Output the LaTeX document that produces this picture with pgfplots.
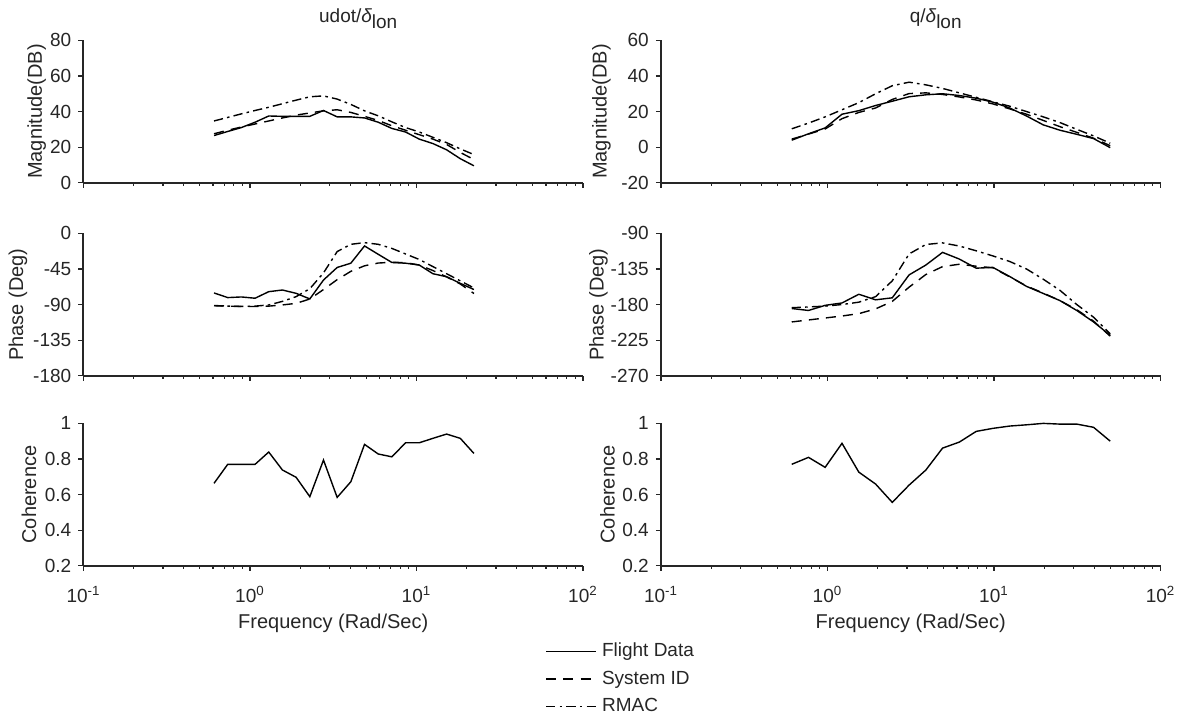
\documentclass[border=0pt]{standalone}
\usepackage{pgfplots}
\usepackage{pgfplotstable}
\pgfplotsset{compat=1.18}
\usepackage{fontspec}
\setmainfont{Liberation Sans}
\definecolor{axgray}{HTML}{262626}

\pgfplotstableread{
f magFD magSI magRM phFD phSI phRM coh
0.608 26.5 27.5 34.7 -75.3 -91.2 -91.5 0.663
0.735 28.8 29.5 36.7 -81.2 -92.0 -92.0 0.770
0.888 31.0 31.3 38.7 -80.4 -92.5 -92.3 0.770
1.073 34.0 33.0 40.6 -82.0 -92.5 -92.0 0.770
1.296 37.5 34.7 42.4 -73.7 -92.0 -90.5 0.839
1.566 37.3 36.4 44.4 -71.6 -90.5 -86.0 0.738
1.892 37.3 38.0 46.4 -75.8 -88.5 -80.0 0.697
2.287 37.3 39.2 48.3 -82.9 -83.0 -70.0 0.588
2.763 40.6 40.4 48.8 -59.0 -71.0 -50.0 0.794
3.338 37.0 41.0 47.0 -43.1 -58.5 -23.0 0.584
4.033 37.0 39.5 44.0 -37.7 -48.0 -13.8 0.672
4.873 36.4 37.3 40.4 -15.9 -41.0 -11.7 0.882
5.888 34.0 35.0 37.6 -26.4 -37.5 -13.8 0.828
7.114 30.5 32.0 34.2 -36.8 -36.5 -19.0 0.812
8.596 28.5 29.5 31.0 -37.7 -37.0 -26.0 0.891
10.385 24.5 27.0 28.5 -40.0 -40.0 -33.0 0.891
12.55 22.0 24.5 25.5 -51.0 -47.0 -42.0 0.916
15.16 18.5 21.5 22.5 -54.8 -55.0 -51.0 0.940
18.32 13.5 17.0 19.0 -63.2 -64.0 -60.0 0.916
22.13 9.5 13.0 15.8 -71.0 -76.0 -69.0 0.831
}\lefttab

\pgfplotstableread{
f magFD magSI magRM phFD phSI phRM coh
0.610 3.9 4.5 10.3 -185.0 -202.0 -184.0 0.770
0.769 7.5 7.3 13.5 -187.5 -199.5 -183.0 0.809
0.968 10.8 10.2 17.0 -181.0 -197.0 -182.0 0.753
1.222 18.5 16.0 21.0 -178.0 -194.5 -180.0 0.888
1.542 20.5 19.5 25.0 -167.0 -191.5 -177.0 0.726
1.945 23.4 22.0 30.0 -174.0 -185.5 -170.0 0.659
2.449 25.8 26.8 34.5 -171.5 -176.0 -150.0 0.556
3.090 28.3 30.1 36.5 -142.5 -158.0 -116.0 0.653
3.899 29.4 30.5 35.0 -130.0 -142.0 -104.0 0.738
4.909 30.0 29.6 33.0 -114.0 -132.0 -102.0 0.861
6.194 29.0 28.2 30.5 -122.5 -129.0 -106.0 0.895
7.816 27.5 26.5 28.0 -134.0 -131.5 -112.0 0.955
9.840 25.3 24.3 25.5 -133.0 -133.5 -118.5 0.972
12.42 22.0 21.5 23.0 -144.5 -145.0 -125.5 0.985
15.67 17.5 18.5 20.0 -157.0 -156.5 -135.0 0.992
19.77 12.5 15.0 17.0 -166.0 -165.5 -148.0 1.000
24.89 9.5 11.5 13.8 -175.0 -175.0 -162.0 0.996
31.41 7.2 8.3 10.0 -187.5 -186.5 -180.0 0.996
39.63 4.8 5.0 6.3 -202.0 -201.0 -196.0 0.978
49.89 -0.3 0.8 2.2 -219.0 -220.0 -217.0 0.900
}\righttab

\tikzset{
  lfd/.style={solid, line width=0.7pt, black},
  lsi/.style={dash pattern=on 5pt off 3.6pt, line width=0.7pt, black},
  lrm/.style={dash pattern=on 4.6pt off 2.1pt on 1.3pt off 2.1pt, line width=0.7pt, black},
}

\pgfplotsset{
  scale only axis, width=249.75pt, height=71.15pt,
  xmin=0.1, xmax=100,
  axis x line*=bottom, axis y line*=left,
  axis line style={line width=1pt, axgray},
  tick align=outside, tick style={axgray, line width=0.6pt},
  major tick length=2.6pt, minor tick length=1.6pt,
  xtick={0.1,1,10,100},
  minor xtick={0.2,0.3,0.4,0.5,0.6,0.7,0.8,0.9,2,3,4,5,6,7,8,9,20,30,40,50,60,70,80,90},
  tick label style={font=\fontsize{9.5}{11}\selectfont, text=axgray},
  xticklabel style={anchor=base, yshift=-15.9pt},
  label style={font=\fontsize{10}{12}\selectfont, text=axgray},
  xlabel style={at={(axis description cs:0.5,0)}, anchor=base, yshift=-31.3pt},
  title style={font=\fontsize{9.5}{11}\selectfont, text=axgray, at={(axis description cs:0.55,1)}, anchor=base, inner sep=0pt, yshift=2.7pt},
  clip=false,
}

\begin{document}
\begin{tikzpicture}
\path[use as bounding box] (0,0) rectangle (590pt,359.5pt);

% Row 1 left
\begin{semilogxaxis}[anchor=south west, at={(41.75pt,268.15pt)}, xticklabels={},
  ymin=0, ymax=80, ytick={0,20,40,60,80},
  yticklabels={0,20,40,60,80}, ylabel={Magnitude(DB)},
  ylabel style={at={(axis description cs:-0.0937,0.5)}, anchor=center},
  title={udot/{\itshape δ}\raisebox{-0.55ex}{lon}}]
\addplot[lfd] table[x=f,y=magFD] {\lefttab};
\addplot[lsi] table[x=f,y=magSI] {\lefttab};
\addplot[lrm] table[x=f,y=magRM] {\lefttab};
\end{semilogxaxis}

% Row 1 right
\begin{semilogxaxis}[anchor=south west, at={(330.5pt,268.15pt)}, xticklabels={},
  ymin=-20, ymax=60, ytick={-20,0,20,40,60},
  yticklabels={-20,0,20,40,60}, ylabel={Magnitude(DB)},
  ylabel style={at={(axis description cs:-0.1191,0.5)}, anchor=center},
  title={q/{\itshape δ}\raisebox{-0.55ex}{lon}}]
\addplot[lfd] table[x=f,y=magFD] {\righttab};
\addplot[lsi] table[x=f,y=magSI] {\righttab};
\addplot[lrm] table[x=f,y=magRM] {\righttab};
\end{semilogxaxis}

% Row 2 left
\begin{semilogxaxis}[anchor=south west, at={(41.75pt,171.65pt)}, xticklabels={},
  ymin=-180, ymax=0, ytick={-180,-135,-90,-45,0},
  yticklabels={-180,-135,-90,-45,0}, ylabel={Phase (Deg)},
  ylabel style={at={(axis description cs:-0.1311,0.5)}, anchor=center}]
\addplot[lfd] table[x=f,y=phFD] {\lefttab};
\addplot[lsi] table[x=f,y=phSI] {\lefttab};
\addplot[lrm] table[x=f,y=phRM] {\lefttab};
\end{semilogxaxis}

% Row 2 right
\begin{semilogxaxis}[anchor=south west, at={(330.5pt,171.65pt)}, xticklabels={},
  ymin=-270, ymax=-90, ytick={-270,-225,-180,-135,-90},
  yticklabels={-270,-225,-180,-135,-90}, ylabel={Phase (Deg)},
  ylabel style={at={(axis description cs:-0.1251,0.5)}, anchor=center}]
\addplot[lfd] table[x=f,y=phFD] {\righttab};
\addplot[lsi] table[x=f,y=phSI] {\righttab};
\addplot[lrm] table[x=f,y=phRM] {\righttab};
\end{semilogxaxis}

% Row 3 left
\begin{semilogxaxis}[anchor=south west, at={(41.75pt,76.65pt)},
  xticklabels={10\textsuperscript{-1},10\textsuperscript{0},10\textsuperscript{1},10\textsuperscript{2}},
  xlabel={Frequency (Rad/Sec)},
  ymin=0.2, ymax=1, ytick={0.2,0.4,0.6,0.8,1},
  yticklabels={0.2,0.4,0.6,0.8,1}, ylabel={Coherence},
  ylabel style={at={(axis description cs:-0.1091,0.5)}, anchor=center},
  legend style={at={(0.925,-0.506)}, anchor=north west, draw=none, fill=none,
    inner sep=0pt, outer sep=0pt, row sep=0pt, column sep=2.85pt,
    font=\fontsize{9.5}{11}\selectfont, text=axgray,
    nodes={inner sep=0pt, outer sep=0pt, text height=9.5pt, text depth=4.25pt}},
  legend cell align=left,
  legend image code/.code={\draw[#1] (0pt,0pt) -- (24.7pt,0pt);}]
\addplot[lfd] table[x=f,y=coh] {\lefttab};
\addlegendentry{Flight Data}
\addlegendimage{lsi}
\addlegendentry{System ID}
\addlegendimage{lrm}
\addlegendentry{RMAC}
\end{semilogxaxis}

% Row 3 right
\begin{semilogxaxis}[anchor=south west, at={(330.5pt,76.65pt)},
  xticklabels={10\textsuperscript{-1},10\textsuperscript{0},10\textsuperscript{1},10\textsuperscript{2}},
  xlabel={Frequency (Rad/Sec)},
  ymin=0.2, ymax=1, ytick={0.2,0.4,0.6,0.8,1},
  yticklabels={0.2,0.4,0.6,0.8,1}, ylabel={Coherence},
  ylabel style={at={(axis description cs:-0.1071,0.5)}, anchor=center}]
\addplot[lfd] table[x=f,y=coh] {\righttab};
\end{semilogxaxis}
\end{tikzpicture}
\end{document}
